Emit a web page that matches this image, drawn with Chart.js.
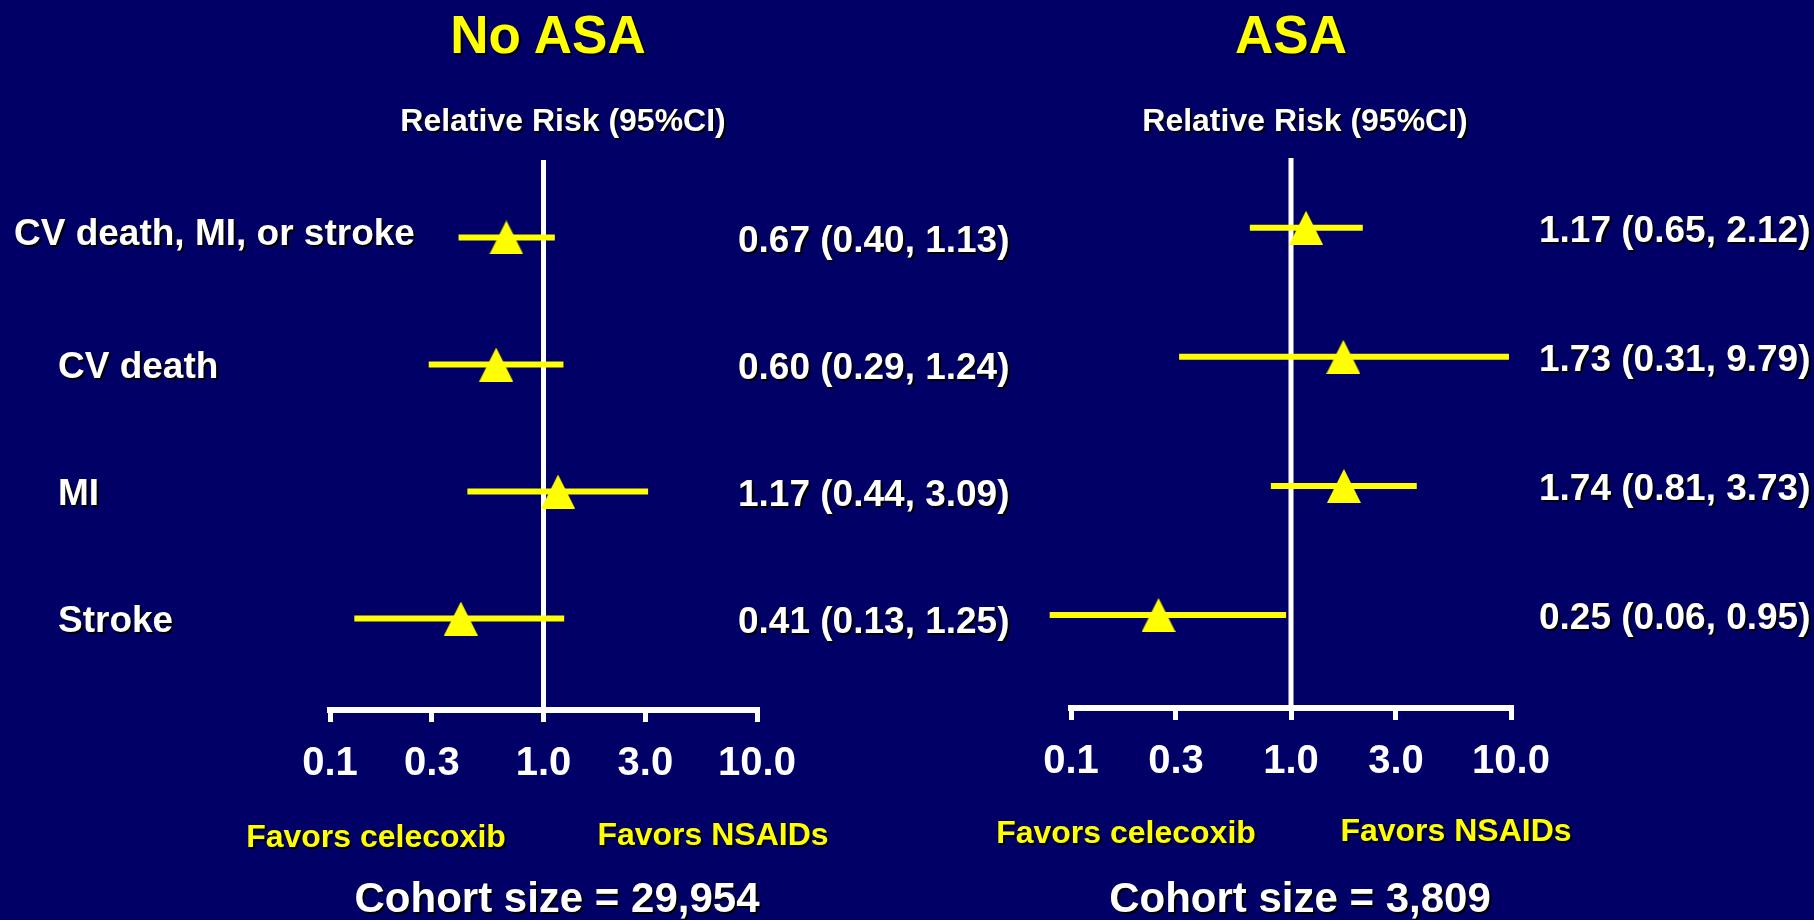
<!DOCTYPE html>
<html>
<head>
<meta charset="utf-8">
<title>Celecoxib vs NSAIDs - relative risk by ASA use</title>
<script src="https://cdn.jsdelivr.net/npm/chart.js@4.4.1/dist/chart.umd.min.js"></script>
<style>
  html, body { margin: 0; padding: 0; }
  body {
    width: 1814px; height: 920px; background: #000066;
    position: relative; overflow: hidden;
    font-family: "Liberation Sans", Arial, sans-serif; font-weight: bold;
  }
  .box { position: absolute; top: 0; height: 920px; }
  .txt {
    position: absolute; transform: translate(-50%, -50%);
    white-space: nowrap; line-height: 1; text-shadow: 2px 2px 0 #000;
  }
  .title { font-size: 53px; color: #ffff00; }
  .head { font-size: 32px; color: #fff; }
  .favor { font-size: 32px; color: #ffff00; }
  .cohort { font-size: 42px; color: #fff; }
</style>
</head>
<body>
<div class="box" style="left:0;width:1040px"><canvas id="chartNoAsa"></canvas></div>
<div class="box" style="left:1000px;width:814px"><canvas id="chartAsa"></canvas></div>

<div class="txt title" style="left:548px;top:34px">No ASA</div>
<div class="txt title" style="left:1291px;top:34px">ASA</div>
<div class="txt head" style="left:563px;top:120px">Relative Risk (95%CI)</div>
<div class="txt head" style="left:1305px;top:120px">Relative Risk (95%CI)</div>
<div class="txt favor" style="left:376px;top:836px">Favors celecoxib</div>
<div class="txt favor" style="left:713px;top:834px">Favors NSAIDs</div>
<div class="txt favor" style="left:1126px;top:832px">Favors celecoxib</div>
<div class="txt favor" style="left:1456px;top:830px">Favors NSAIDs</div>
<div class="txt cohort" style="left:557px;top:898px">Cohort size = 29,954</div>
<div class="txt cohort" style="left:1300px;top:898px">Cohort size = 3,809</div>

<script>
const outcomes = ['CV death, MI, or stroke', 'CV death', 'MI', 'Stroke'];
const tickValues = [0.1, 0.3, 1, 3, 10];
const tickLabels = ['0.1', '0.3', '1.0', '3.0', '10.0'];

// No ASA
const noAsaRR = [0.67, 0.60, 1.17, 0.41];
const noAsaLow = [0.40, 0.29, 0.44, 0.13];
const noAsaHigh = [1.13, 1.24, 3.09, 1.25];
const noAsaText = ['0.67 (0.40, 1.13)', '0.60 (0.29, 1.24)', '1.17 (0.44, 3.09)', '0.41 (0.13, 1.25)'];

// ASA
const asaRR = [1.17, 1.73, 1.74, 0.25];
const asaLow = [0.65, 0.31, 0.81, 0.08]; // stroke bar on the slide stops short of 0.06
const asaHigh = [2.12, 9.79, 3.73, 0.95];
const asaText = ['1.17 (0.65, 2.12)', '1.73 (0.31, 9.79)', '1.74 (0.81, 3.73)', '0.25 (0.06, 0.95)'];

const FONT = '"Liberation Sans", Arial, sans-serif';
const YELLOW = '#ffff00';

// triangle marker
const tri = document.createElement('canvas');
tri.width = 34;
tri.height = 34;
const tctx = tri.getContext('2d');
tctx.fillStyle = YELLOW;
tctx.beginPath();
tctx.moveTo(17, 0);
tctx.lineTo(34, 34);
tctx.lineTo(0, 34);
tctx.closePath();
tctx.fill();

// outcome names on the left and RR (CI) text on the right of each row
const rowText = {
  id: 'rowText',
  afterDatasetsDraw(chart, args, opts) {
    const { ctx, chartArea, scales: { y } } = chart;
    ctx.save();
    ctx.font = 'bold 37px ' + FONT;
    ctx.fillStyle = '#fff';
    ctx.textBaseline = 'middle';
    ctx.shadowColor = '#000';
    ctx.shadowOffsetX = 2;
    ctx.shadowOffsetY = 2;
    opts.values.forEach((t, i) => {
      const py = y.getPixelForValue(i);
      ctx.fillText(t, chartArea.right + opts.valueOffset, py + 4);
      if (opts.labels) ctx.fillText(opts.labels[i], i === 0 ? 14 : 58, py + (i === 0 ? -3 : 3));
    });
    ctx.restore();
  }
};

function buildForest(id, rr, low, high, text, cfg) {
  const rows = rr.map((_, i) => i);

  const points = {
    type: 'scatter',
    data: rows.map(i => ({ x: rr[i], y: i })),
    pointStyle: tri,
    pointRadius: 17,
    clip: false
  };

  const bars = rows.map(i => ({
    type: 'line',
    data: [{ x: low[i], y: i }, { x: high[i], y: i }],
    borderColor: YELLOW,
    borderWidth: 6,
    pointRadius: 0,
    clip: false
  }));

  const refLine = {
    type: 'line',
    data: [{ x: 1, y: cfg.yMin }, { x: 1, y: cfg.yMax }],
    borderColor: '#fff',
    borderWidth: 5,
    pointRadius: 0
  };

  new Chart(document.getElementById(id), {
    type: 'scatter',
    data: { datasets: [points, ...bars, refLine] },
    plugins: [rowText],
    options: {
      responsive: true,
      maintainAspectRatio: false,
      animation: false,
      layout: { padding: cfg.padding },
      plugins: {
        legend: { display: false },
        tooltip: { enabled: false },
        rowText: { values: text, labels: cfg.labels, valueOffset: cfg.valueOffset }
      },
      scales: {
        x: {
          type: 'logarithmic',
          min: 0.1,
          max: 10,
          afterBuildTicks: s => { s.ticks = tickValues.map(v => ({ value: v })); },
          afterFit: s => { s.height = 80; },
          ticks: {
            callback: (v, i) => tickLabels[i],
            color: '#fff',
            font: { family: FONT, size: 40, weight: 'bold' },
            padding: 18,
            autoSkip: false,
            maxRotation: 0
          },
          grid: { drawOnChartArea: false, color: '#fff', lineWidth: 5, tickLength: 12 },
          border: { color: '#fff', width: 6 }
        },
        y: {
          type: 'linear',
          reverse: true,
          min: cfg.yMin,
          max: cfg.yMax,
          display: false
        }
      }
    }
  });
}

buildForest('chartNoAsa', noAsaRR, noAsaLow, noAsaHigh, noAsaText, {
  labels: outcomes,
  yMin: -0.61,
  yMax: 3.72,
  valueOffset: -19,
  padding: { left: 330, right: 283, top: 160, bottom: 130 }
});

buildForest('chartAsa', asaRR, asaLow, asaHigh, asaText, {
  labels: null,
  yMin: -0.54,
  yMax: 3.72,
  valueOffset: 28,
  padding: { left: 71, right: 303, top: 158, bottom: 132 }
});
</script>
</body>
</html>
